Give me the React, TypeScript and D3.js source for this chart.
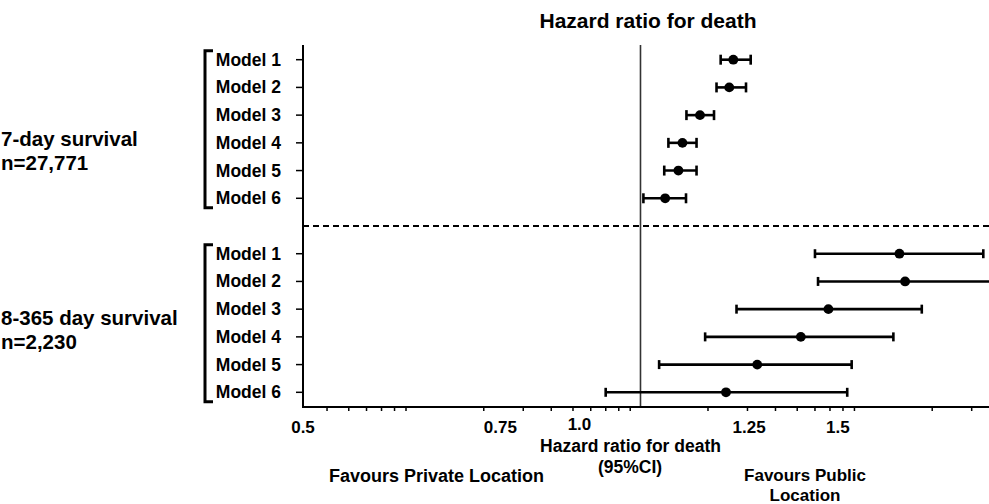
import React from "react";
import * as d3 from "d3";

const width = 989;
const height = 504;
const margin = { top: 45, right: -1, bottom: 97, left: 303 };

const models = ["Model 1", "Model 2", "Model 3", "Model 4", "Model 5", "Model 6"];

// 7-day survival
const hr7 = [1.21, 1.2, 1.13, 1.09, 1.081, 1.052];
const lo7 = [1.179, 1.169, 1.099, 1.059, 1.05, 1.006];
const hi7 = [1.254, 1.242, 1.163, 1.122, 1.122, 1.098];

// 8-365 day survival
const hr365 = [1.702, 1.722, 1.471, 1.39, 1.271, 1.192];
const lo365 = [1.431, 1.44, 1.218, 1.142, 1.039, 0.931];
const hi365 = [2.022, 2.12, 1.782, 1.681, 1.543, 1.529];

const groupNames = ["7-day survival", "8-365 day survival"];
const groupN = ["n=27,771", "n=2,230"];

const xDomain = [0.5, 2.05];
const tickLabels = ["0.5", "0.75", "1.0", "1.25", "1.5"];
const tickValues = [0.5, 0.75, 1.0, 1.25, 1.5];
// minor marks of the underlying log axis
const minorTicks = [
  0.04, 0.05, 0.06, 0.07, 0.08, 0.09,
  0.2, 0.3, 0.4, 0.5, 0.6, 0.7, 0.8, 0.9,
  2, 3, 4, 5, 6, 7, 8, 9,
  20, 30,
];

const font = "'Liberation Sans', Arial, sans-serif";

export default function App() {
  const x = d3.scaleLog().domain(xDomain).range([margin.left, width - margin.right]);
  // the axis marks sit on a log scale of HR^5
  const xMinor = d3
    .scaleLog()
    .domain([Math.pow(xDomain[0], 5), Math.pow(xDomain[1], 5)])
    .range(x.range());

  const rowKeys = [
    ...models.map((m) => "a" + m),
    "sep",
    ...models.map((m) => "b" + m),
  ];
  const y = d3
    .scalePoint<string>()
    .domain(rowKeys)
    .range([margin.top, height - margin.bottom])
    .padding(0.53);

  const groups = [
    { prefix: "a", hr: hr7, lo: lo7, hi: hi7, cap: 5, labelDy: 17 },
    { prefix: "b", hr: hr365, lo: lo365, hi: hi365, cap: 4.5, labelDy: 2 },
  ];

  const axisY = height - margin.bottom;
  const bold = { fontFamily: font, fontWeight: 700, fill: "#000" } as const;

  return (
    <svg
      width={width}
      height={height}
      style={{ position: "absolute", left: 0, top: 0, background: "#fff" }}
    >
      <text x={648} y={28} textAnchor="middle" fontSize={21} {...bold}>
        Hazard ratio for death
      </text>

      {/* reference line at HR = 1 */}
      <line x1={x(1)} x2={x(1)} y1={margin.top} y2={axisY} stroke="#333" strokeWidth={1.6} />

      {/* separator */}
      <line
        x1={margin.left}
        x2={width}
        y1={y("sep")}
        y2={y("sep")}
        stroke="#000"
        strokeWidth={2}
        strokeDasharray="6,4"
      />

      {/* y axis */}
      <line x1={margin.left} x2={margin.left} y1={margin.top} y2={axisY} stroke="#000" strokeWidth={2} />
      {/* x axis */}
      <line x1={margin.left - 1} x2={width} y1={axisY} y2={axisY} stroke="#000" strokeWidth={2} />
      {minorTicks.map((t, i) => (
        <line key={i} x1={xMinor(t)} x2={xMinor(t)} y1={axisY} y2={axisY + 4} stroke="#000" strokeWidth={1.5} />
      ))}
      {tickValues.map((v, i) => (
        <text
          key={i}
          x={x(v) + (v === 1 ? -61 : 0)}
          y={433 + (v === 1 ? -3.5 : 0)}
          textAnchor="middle"
          fontSize={17}
          {...bold}
        >
          {tickLabels[i]}
        </text>
      ))}

      {groups.map((g, gi) => {
        const first = y(g.prefix + models[0])!;
        const last = y(g.prefix + models[models.length - 1])!;
        const mid = (first + last) / 2;
        return (
          <g key={gi}>
            <path
              d={`M213,${first - 9}H205V${last + 9.5}H213`}
              fill="none"
              stroke="#000"
              strokeWidth={3}
            />
            <text x={1} y={mid + g.labelDy} fontSize={20.5} {...bold}>
              {groupNames[gi]}
            </text>
            <text x={1} y={mid + g.labelDy + 24} fontSize={20.5} {...bold}>
              {groupN[gi]}
            </text>
            {models.map((m, i) => {
              const yy = y(g.prefix + m)!;
              return (
                <g key={m}>
                  <line x1={margin.left - 7} x2={margin.left} y1={yy} y2={yy} stroke="#000" strokeWidth={1.5} />
                  <text x={281} y={yy + 6} textAnchor="end" fontSize={17.5} {...bold}>
                    {m}
                  </text>
                  <line x1={x(g.lo[i])} x2={x(g.hi[i])} y1={yy} y2={yy} stroke="#000" strokeWidth={2.6} />
                  <line x1={x(g.lo[i])} x2={x(g.lo[i])} y1={yy - g.cap} y2={yy + g.cap} stroke="#000" strokeWidth={2.6} />
                  <line x1={x(g.hi[i])} x2={x(g.hi[i])} y1={yy - g.cap} y2={yy + g.cap} stroke="#000" strokeWidth={2.6} />
                  <circle cx={x(g.hr[i])} cy={yy} r={4.9} fill="#000" />
                </g>
              );
            })}
          </g>
        );
      })}

      <text x={630.5} y={452} textAnchor="middle" fontSize={17.5} {...bold}>
        Hazard ratio for death
      </text>
      <text x={630} y={472.5} textAnchor="middle" fontSize={17.5} {...bold}>
        (95%CI)
      </text>
      <text x={329} y={482} fontSize={18} {...bold}>
        Favours Private Location
      </text>
      <text x={805} y={480.5} textAnchor="middle" fontSize={17} {...bold}>
        Favours Public
      </text>
      <text x={805} y={500.5} textAnchor="middle" fontSize={17} {...bold}>
        Location
      </text>
    </svg>
  );
}
